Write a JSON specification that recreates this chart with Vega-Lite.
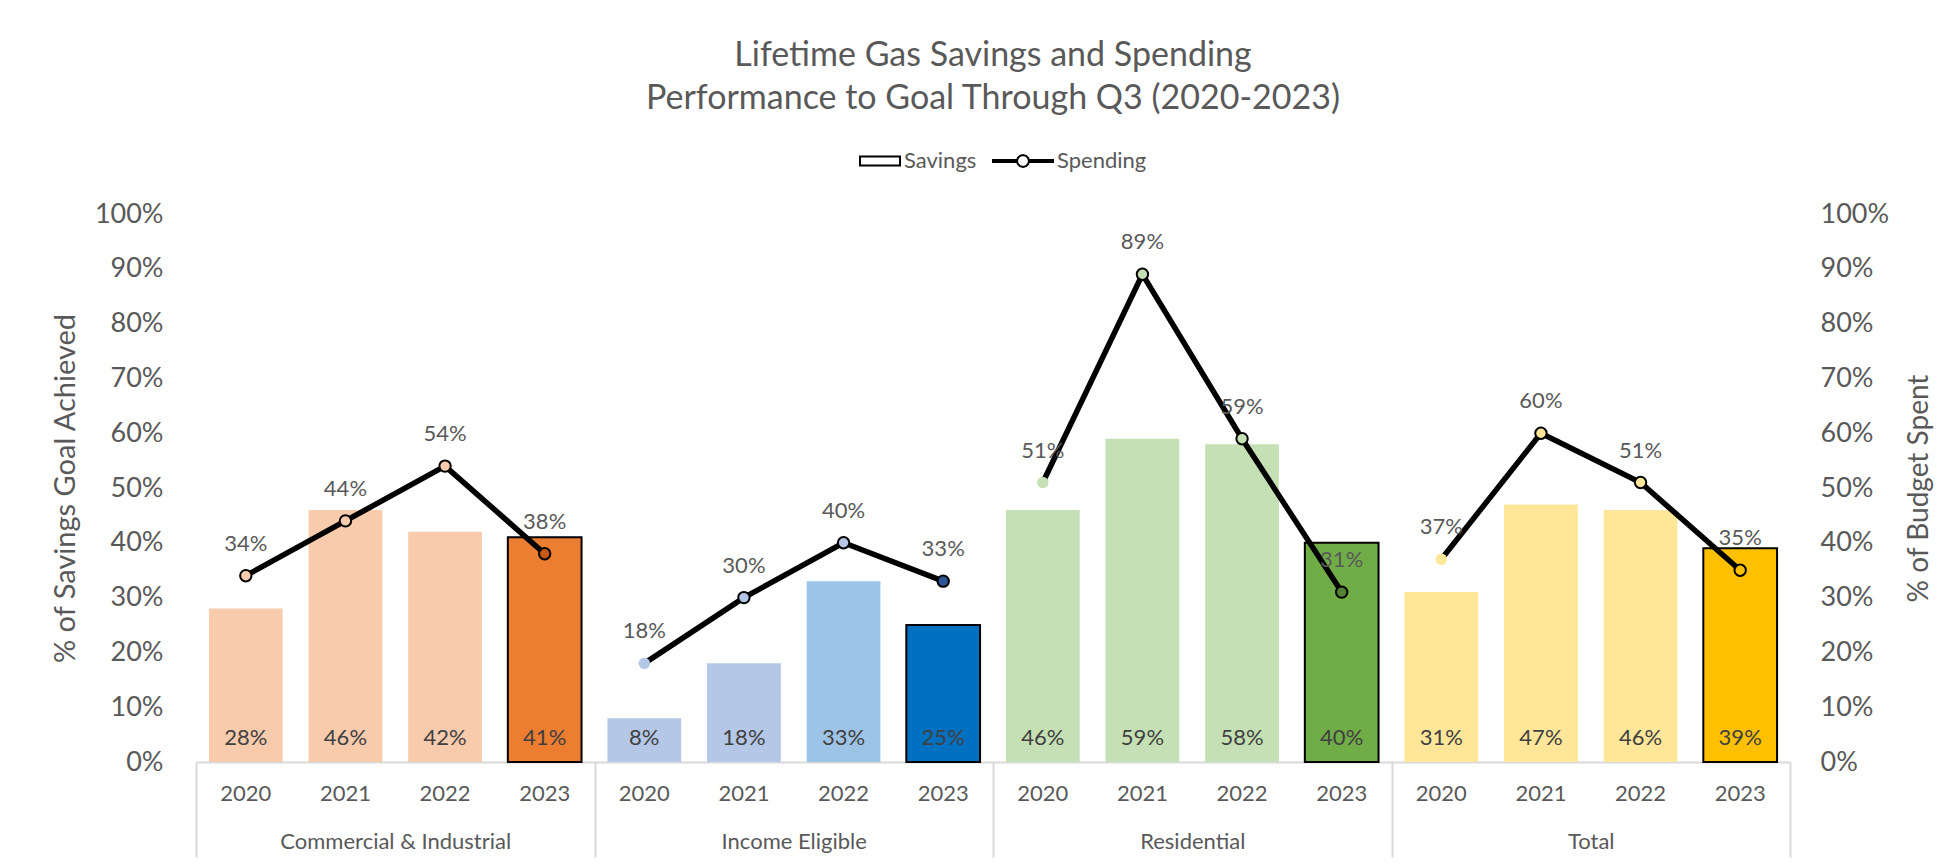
{
  "$schema": "https://vega.github.io/schema/vega-lite/v6.json",
  "width": 1594,
  "height": 548,
  "autosize": {"type": "none"},
  "padding": {"left": 196, "top": 214, "right": 162, "bottom": 102},
  "background": "white",
  "config": {
    "font": "Lato",
    "view": {"stroke": null},
    "axis": {"grid": false, "labelColor": "#595959", "titleColor": "#595959", "titleFontWeight": "normal"}
  },
  "title": {
    "text": ["Lifetime Gas Savings and Spending", "Performance to Goal Through Q3 (2020-2023)"],
    "fontSize": 34,
    "fontWeight": "normal",
    "color": "#595959",
    "lineHeight": 43,
    "anchor": "middle",
    "offset": 14
  },
  "data": {
    "values": [
      {"group": "Commercial & Industrial", "year": "2020", "key": "Commercial & Industrial|2020", "Savings": 0.28, "Spending": 0.34},
      {"group": "Commercial & Industrial", "year": "2021", "key": "Commercial & Industrial|2021", "Savings": 0.46, "Spending": 0.44},
      {"group": "Commercial & Industrial", "year": "2022", "key": "Commercial & Industrial|2022", "Savings": 0.42, "Spending": 0.54},
      {"group": "Commercial & Industrial", "year": "2023", "key": "Commercial & Industrial|2023", "Savings": 0.41, "Spending": 0.38},
      {"group": "Income Eligible", "year": "2020", "key": "Income Eligible|2020", "Savings": 0.08, "Spending": 0.18},
      {"group": "Income Eligible", "year": "2021", "key": "Income Eligible|2021", "Savings": 0.18, "Spending": 0.30},
      {"group": "Income Eligible", "year": "2022", "key": "Income Eligible|2022", "Savings": 0.33, "Spending": 0.40},
      {"group": "Income Eligible", "year": "2023", "key": "Income Eligible|2023", "Savings": 0.25, "Spending": 0.33},
      {"group": "Residential", "year": "2020", "key": "Residential|2020", "Savings": 0.46, "Spending": 0.51},
      {"group": "Residential", "year": "2021", "key": "Residential|2021", "Savings": 0.59, "Spending": 0.89},
      {"group": "Residential", "year": "2022", "key": "Residential|2022", "Savings": 0.58, "Spending": 0.59},
      {"group": "Residential", "year": "2023", "key": "Residential|2023", "Savings": 0.40, "Spending": 0.31},
      {"group": "Total", "year": "2020", "key": "Total|2020", "Savings": 0.31, "Spending": 0.37},
      {"group": "Total", "year": "2021", "key": "Total|2021", "Savings": 0.47, "Spending": 0.60},
      {"group": "Total", "year": "2022", "key": "Total|2022", "Savings": 0.46, "Spending": 0.51},
      {"group": "Total", "year": "2023", "key": "Total|2023", "Savings": 0.39, "Spending": 0.35}
    ]
  },
  "layer": [
    {
      "encoding": {
        "x": {
          "field": "key",
          "type": "nominal",
          "sort": null,
          "scale": {"type": "band", "paddingInner": 0.26, "paddingOuter": 0.13},
          "axis": {
            "orient": "bottom",
            "title": null,
            "labelExpr": "split(datum.label, '|')[1]",
            "labelAngle": 0,
            "ticks": false,
            "domainColor": "#D9D9D9",
            "domainWidth": 2,
            "labelFontSize": 22,
            "labelPadding": 21
          }
        }
      },
      "layer": [
        {
          "mark": {"type": "bar", "stroke": "black"},
          "encoding": {
            "y": {
              "field": "Savings",
              "type": "quantitative",
              "scale": {"domain": [0, 1]},
              "axis": {
                "orient": "left",
                "values": [0, 0.1, 0.2, 0.3, 0.4, 0.5, 0.6, 0.7, 0.8, 0.9, 1],
                "format": ".0%",
                "ticks": false,
                "domain": false,
                "labelFontSize": 27,
                "labelPadding": 33,
                "title": "% of Savings Goal Achieved",
                "titleFontSize": 29,
                "titlePadding": 14
              }
            },
            "color": {
              "field": "key",
              "type": "nominal",
              "legend": null,
              "scale": {
                "domain": ["Commercial & Industrial|2020", "Commercial & Industrial|2021", "Commercial & Industrial|2022", "Commercial & Industrial|2023", "Income Eligible|2020", "Income Eligible|2021", "Income Eligible|2022", "Income Eligible|2023", "Residential|2020", "Residential|2021", "Residential|2022", "Residential|2023", "Total|2020", "Total|2021", "Total|2022", "Total|2023"],
                "range": ["#F8CBAD", "#F8CBAD", "#F8CBAD", "#ED7D31", "#B4C7E7", "#B4C7E7", "#9DC3E6", "#0070C0", "#C5E0B4", "#C5E0B4", "#C5E0B4", "#70AD47", "#FFE699", "#FFE699", "#FFE699", "#FFC000"]
              }
            },
            "strokeWidth": {"condition": {"test": "datum.year == '2023'", "value": 2}, "value": 0}
          }
        },
        {
          "mark": {"type": "text", "baseline": "middle", "dy": -24, "fontSize": 22, "fill": "#404040"},
          "encoding": {
            "y": {"datum": 0, "type": "quantitative", "scale": {"domain": [0, 1]}, "axis": null},
            "text": {"field": "Savings", "type": "quantitative", "format": ".0%"}
          }
        },
        {
          "mark": {"type": "line", "color": "black", "strokeWidth": 5.5},
          "encoding": {
            "y": {
              "field": "Spending",
              "type": "quantitative",
              "scale": {"domain": [0, 1]},
              "axis": {
                "orient": "right",
                "values": [0, 0.1, 0.2, 0.3, 0.4, 0.5, 0.6, 0.7, 0.8, 0.9, 1],
                "format": ".0%",
                "ticks": false,
                "domain": false,
                "labelFontSize": 27,
                "labelPadding": 30,
                "title": "% of Budget Spent",
                "titleFontSize": 28,
                "titleAngle": 270,
                "titlePadding": 45
              }
            },
            "detail": {"field": "group"}
          }
        },
        {
          "mark": {"type": "point", "filled": true, "size": 130, "stroke": "black", "opacity": 1},
          "encoding": {
            "y": {"field": "Spending", "type": "quantitative", "scale": {"domain": [0, 1]}, "axis": null},
            "fill": {
              "field": "key",
              "type": "nominal",
              "legend": null,
              "scale": {
                "domain": ["Commercial & Industrial|2020", "Commercial & Industrial|2021", "Commercial & Industrial|2022", "Commercial & Industrial|2023", "Income Eligible|2020", "Income Eligible|2021", "Income Eligible|2022", "Income Eligible|2023", "Residential|2020", "Residential|2021", "Residential|2022", "Residential|2023", "Total|2020", "Total|2021", "Total|2022", "Total|2023"],
                "range": ["#F8CBAD", "#F8CBAD", "#F8CBAD", "#C55A11", "#B4C7E7", "#B4C7E7", "#B4C7E7", "#2F5597", "#C5E0B4", "#C5E0B4", "#C5E0B4", "#548235", "#FFE699", "#FFE699", "#FFE699", "#FFC000"]
              }
            },
            "strokeWidth": {"condition": {"test": "datum.year == '2020' && datum.group != 'Commercial & Industrial'", "value": 0}, "value": 2}
          }
        },
        {
          "mark": {"type": "text", "baseline": "middle", "dy": -32, "fontSize": 22, "fill": "#595959"},
          "encoding": {
            "y": {"field": "Spending", "type": "quantitative", "scale": {"domain": [0, 1]}, "axis": null},
            "text": {"field": "Spending", "type": "quantitative", "format": ".0%"}
          }
        }
      ],
      "resolve": {"scale": {"y": "independent"}}
    },
    {
      "transform": [{"fold": ["Savings", "Spending"], "as": ["series", "val"]}],
      "mark": {"type": "point", "fill": "transparent", "stroke": "transparent", "strokeWidth": 2},
      "encoding": {
        "x": {
          "field": "group",
          "type": "nominal",
          "sort": null,
          "scale": {"type": "band", "paddingInner": 0, "paddingOuter": 0},
          "axis": {
            "orient": "bottom",
            "title": null,
            "labelAngle": 0,
            "labelLimit": 0,
            "tickBand": "extent",
            "tickSize": 95,
            "tickColor": "#D9D9D9",
            "tickWidth": 2,
            "domain": false,
            "labelFontSize": 22,
            "labelPadding": -26
          }
        },
        "shape": {
          "field": "series",
          "type": "nominal",
          "scale": {
            "domain": ["Savings", "Spending"],
            "range": [
              "M-0.333,-0.15L1,-0.15L1,0.15L-0.333,0.15Z",
              "M-1,-0.033L-0.2,-0.033L-0.2,0.033L-1,0.033Z M0.2,-0.033L1,-0.033L1,0.033L0.2,0.033Z M0.2,0L0.173,0.1L0.1,0.173L0,0.2L-0.1,0.173L-0.173,0.1L-0.2,0L-0.173,-0.1L-0.1,-0.173L0,-0.2L0.1,-0.173L0.173,-0.1Z"
            ]
          },
          "legend": {
            "orient": "none",
            "legendX": 643,
            "legendY": -84,
            "direction": "horizontal",
            "title": null,
            "symbolSize": 3600,
            "symbolFillColor": "white",
            "symbolStrokeColor": "black",
            "symbolStrokeWidth": 2,
            "symbolOpacity": 1,
            "labelFontSize": 22,
            "labelColor": "#595959",
            "labelOffset": 3,
            "columnPadding": 12,
            "padding": 0
          }
        }
      }
    }
  ],
  "resolve": {"scale": {"x": "independent", "y": "independent"}}
}
